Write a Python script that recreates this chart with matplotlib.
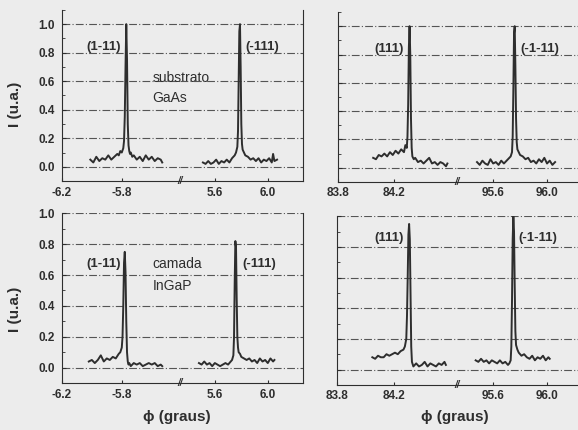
import matplotlib
matplotlib.use('Agg')
import matplotlib.pyplot as plt
from matplotlib.ticker import MultipleLocator

# ---- data ----
# top row: GaAs substrate
sub_1m11_x = [-6.01, -5.99, -5.97, -5.95, -5.93, -5.91, -5.89, -5.87, -5.85, -5.83,
              -5.82, -5.81, -5.80, -5.79, -5.785, -5.78, -5.775, -5.77, -5.765, -5.76,
              -5.755, -5.75, -5.745, -5.74, -5.73, -5.72, -5.70, -5.68, -5.66, -5.64,
              -5.62, -5.60, -5.58, -5.56, -5.54, -5.53]
sub_1m11_y = [0.05, 0.03, 0.07, 0.04, 0.06, 0.05, 0.08, 0.05, 0.07, 0.09,
              0.08, 0.11, 0.10, 0.13, 0.18, 0.35, 0.70, 1.00, 0.75, 0.30,
              0.15, 0.11, 0.09, 0.10, 0.07, 0.08, 0.05, 0.07, 0.04, 0.08,
              0.05, 0.07, 0.04, 0.06, 0.05, 0.03]

sub_m111_x = [5.51, 5.53, 5.55, 5.57, 5.59, 5.61, 5.63, 5.65, 5.67, 5.69,
              5.71, 5.73, 5.75, 5.76, 5.77, 5.775, 5.78, 5.785, 5.79, 5.795,
              5.80, 5.805, 5.81, 5.82, 5.83, 5.85, 5.87, 5.89, 5.91, 5.93,
              5.95, 5.97, 5.99, 6.01, 6.03, 6.04, 6.05, 6.07]
sub_m111_y = [0.03, 0.02, 0.04, 0.02, 0.03, 0.05, 0.02, 0.04, 0.03, 0.05,
              0.03, 0.06, 0.08, 0.10, 0.14, 0.25, 0.60, 0.95, 1.00, 0.70,
              0.30, 0.16, 0.12, 0.10, 0.08, 0.07, 0.05, 0.06, 0.04, 0.06,
              0.03, 0.05, 0.04, 0.06, 0.03, 0.09, 0.04, 0.05]

sub_111_x = [84.05, 84.07, 84.09, 84.11, 84.13, 84.15, 84.17, 84.19, 84.21, 84.23,
             84.25, 84.27, 84.28, 84.29, 84.295, 84.30, 84.305, 84.31, 84.315, 84.32,
             84.325, 84.33, 84.34, 84.35, 84.37, 84.39, 84.41, 84.43, 84.45, 84.47,
             84.49, 84.51, 84.53, 84.55, 84.57, 84.58]
sub_111_y = [0.07, 0.06, 0.09, 0.08, 0.10, 0.08, 0.11, 0.09, 0.12, 0.10,
             0.13, 0.11, 0.16, 0.14, 0.22, 0.45, 0.85, 1.00, 0.80, 0.35,
             0.14, 0.08, 0.06, 0.07, 0.04, 0.05, 0.03, 0.05, 0.07, 0.03,
             0.04, 0.02, 0.04, 0.03, 0.01, 0.03]

sub_m1m11_x = [95.48, 95.50, 95.52, 95.54, 95.56, 95.58, 95.60, 95.62, 95.64, 95.66,
               95.68, 95.70, 95.72, 95.73, 95.74, 95.745, 95.75, 95.755, 95.76, 95.765,
               95.77, 95.775, 95.78, 95.79, 95.80, 95.82, 95.84, 95.86, 95.88, 95.90,
               95.92, 95.94, 95.96, 95.98, 96.00, 96.02, 96.04, 96.06]
sub_m1m11_y = [0.04, 0.02, 0.05, 0.03, 0.02, 0.06, 0.03, 0.04, 0.02, 0.05,
               0.03, 0.05, 0.07, 0.08, 0.11, 0.22, 0.55, 0.95, 1.00, 0.72,
               0.35, 0.18, 0.13, 0.11, 0.09, 0.08, 0.06, 0.07, 0.04, 0.05,
               0.03, 0.06, 0.04, 0.07, 0.03, 0.05, 0.02, 0.04]

# bottom row: InGaP layer
lay_1m11_x = [-6.02, -6.00, -5.98, -5.96, -5.94, -5.92, -5.90, -5.88, -5.86, -5.84,
              -5.82, -5.81, -5.80, -5.795, -5.79, -5.785, -5.78, -5.775, -5.77, -5.765,
              -5.76, -5.755, -5.75, -5.74, -5.72, -5.70, -5.68, -5.66, -5.64, -5.62,
              -5.60, -5.58, -5.56, -5.54, -5.53]
lay_1m11_y = [0.04, 0.05, 0.03, 0.05, 0.08, 0.04, 0.06, 0.05, 0.07, 0.06,
              0.09, 0.10, 0.13, 0.20, 0.40, 0.68, 0.75, 0.62, 0.30, 0.10,
              0.04, 0.02, 0.03, 0.01, 0.03, 0.02, 0.03, 0.01, 0.02, 0.03,
              0.02, 0.03, 0.01, 0.02, 0.01]

lay_m111_x = [5.48, 5.50, 5.52, 5.54, 5.56, 5.58, 5.60, 5.62, 5.64, 5.66,
              5.68, 5.70, 5.72, 5.73, 5.74, 5.745, 5.75, 5.755, 5.76, 5.765,
              5.77, 5.775, 5.78, 5.79, 5.80, 5.82, 5.84, 5.86, 5.88, 5.90,
              5.92, 5.94, 5.96, 5.98, 6.00, 6.02, 6.04, 6.05]
lay_m111_y = [0.03, 0.02, 0.04, 0.02, 0.03, 0.01, 0.03, 0.02, 0.01, 0.02,
              0.03, 0.02, 0.04, 0.05, 0.08, 0.20, 0.55, 0.82, 0.78, 0.45,
              0.20, 0.13, 0.10, 0.09, 0.07, 0.06, 0.05, 0.06, 0.04, 0.05,
              0.03, 0.06, 0.04, 0.05, 0.03, 0.06, 0.04, 0.05]

lay_111_x = [84.05, 84.07, 84.09, 84.11, 84.13, 84.15, 84.17, 84.19, 84.21, 84.23,
             84.25, 84.27, 84.28, 84.29, 84.295, 84.30, 84.305, 84.31, 84.315, 84.32,
             84.325, 84.33, 84.34, 84.36, 84.38, 84.40, 84.42, 84.44, 84.46, 84.48,
             84.50, 84.52, 84.54, 84.56, 84.57]
lay_111_y = [0.08, 0.07, 0.09, 0.08, 0.08, 0.10, 0.09, 0.10, 0.11, 0.10,
             0.12, 0.13, 0.15, 0.20, 0.35, 0.60, 0.88, 0.95, 0.85, 0.50,
             0.15, 0.05, 0.02, 0.04, 0.02, 0.03, 0.05, 0.02, 0.04, 0.03,
             0.02, 0.04, 0.03, 0.05, 0.03]

lay_m1m11_x = [95.47, 95.49, 95.51, 95.53, 95.55, 95.57, 95.59, 95.61, 95.63, 95.65,
               95.67, 95.69, 95.71, 95.72, 95.73, 95.735, 95.74, 95.745, 95.75, 95.755,
               95.76, 95.765, 95.77, 95.78, 95.79, 95.81, 95.83, 95.85, 95.87, 95.89,
               95.91, 95.93, 95.95, 95.97, 95.99, 96.01, 96.02]
lay_m1m11_y = [0.06, 0.05, 0.07, 0.05, 0.06, 0.04, 0.06, 0.05, 0.04, 0.06,
               0.04, 0.05, 0.03, 0.04, 0.06, 0.15, 0.45, 0.85, 1.00, 0.90,
               0.55, 0.25, 0.16, 0.13, 0.11, 0.09, 0.10, 0.08, 0.07, 0.09,
               0.06, 0.08, 0.07, 0.09, 0.06, 0.08, 0.07]

yticks = [0.0, 0.2, 0.4, 0.6, 0.8, 1.0]
ticks_neg = [-6.2, -5.8]
ticks_pos = [5.6, 6.0]
ticks_lo = [83.8, 84.2]
ticks_hi = [95.6, 96.0]

BG = '#ececec'
INK = '#2e2e2e'

plt.rcParams['font.family'] = ['Liberation Sans', 'DejaVu Sans']

fig = plt.figure(figsize=(5.78, 4.30), dpi=100, facecolor=BG)


def panel(x0, xb, x1, y0, y1, xl_a, xl_b, tk_a, tk_b, seg_a, seg_b, ylim,
          show_ylabels, right_spine):
    ax_a = fig.add_axes([x0, y0, xb - x0, y1 - y0])
    ax_b = fig.add_axes([xb, y0, x1 - xb, y1 - y0], sharey=ax_a)
    for ax, xl, tk, seg in ((ax_a, xl_a, tk_a, seg_a), (ax_b, xl_b, tk_b, seg_b)):
        ax.set_facecolor('none')
        ax.plot(seg[0], seg[1], color=INK, lw=1.4)
        ax.set_xlim(*xl)
        ax.set_xticks(tk)
        ax.set_xticklabels(['%.1f' % t for t in tk], fontsize=8.5,
                           fontweight='bold', color=INK)
        ax.spines['top'].set_visible(False)
        ax.spines['right'].set_visible(False)
        ax.spines['bottom'].set_color(INK)
        ax.tick_params(axis='x', direction='in', length=2, color=INK, pad=4)
        ax.yaxis.grid(True, color='#555555', lw=0.8, ls=(0, (7, 2, 1, 2)))
        ax.set_axisbelow(True)
    ax_a.set_ylim(*ylim)
    ax_a.yaxis.set_major_locator(MultipleLocator(0.2))
    ax_a.yaxis.set_minor_locator(MultipleLocator(0.1))
    ax_a.spines['left'].set_color(INK)
    ax_a.tick_params(axis='y', which='both', direction='in', color=INK,
                     labelsize=8.5, labelcolor=INK, pad=5)
    ax_a.tick_params(axis='y', which='major', length=3)
    ax_a.tick_params(axis='y', which='minor', length=2)
    if show_ylabels:
        ax_a.set_yticks(yticks)
        ax_a.set_yticklabels(['%.1f' % t for t in yticks], fontweight='bold')
    else:
        ax_a.tick_params(axis='y', which='both', labelleft=False)
    ax_b.spines['left'].set_visible(False)
    ax_b.tick_params(axis='y', which='both', left=False, labelleft=False)
    if right_spine:
        ax_b.spines['right'].set_visible(True)
        ax_b.spines['right'].set_color(INK)
    # break mark on the bottom axis
    fig.text(xb, y0, '//', fontsize=7, fontweight='bold', color=INK,
             ha='center', va='center', style='italic')
    return ax_a, ax_b


bold = dict(fontsize=9.5, fontweight='bold', color=INK)
plain = dict(fontsize=10, color=INK)

# top-left
a, b = panel(0.107, 0.311, 0.524, 0.579, 0.977, (-6.2, -5.413), (5.335, 6.265),
             ticks_neg, ticks_pos, (sub_1m11_x, sub_1m11_y), (sub_m111_x, sub_m111_y),
             (-0.1, 1.1), True, True)
a.text(-5.805, 0.84, '(1-11)', ha='right', va='center', **bold)
b.text(5.83, 0.84, '(-111)', ha='left', va='center', **bold)
a.text(-5.595, 0.62, 'substrato', ha='left', va='center', **plain)
a.text(-5.595, 0.48, 'GaAs', ha='left', va='center', **plain)

# top-right
a, b = panel(0.585, 0.791, 1.0, 0.577, 0.972, (83.8, 84.65), (95.333, 96.23),
             ticks_lo, ticks_hi, (sub_111_x, sub_111_y), (sub_m1m11_x, sub_m1m11_y),
             (-0.1, 1.1), False, False)
a.text(84.27, 0.84, '(111)', ha='right', va='center', **bold)
b.text(95.8, 0.84, '(-1-11)', ha='left', va='center', **bold)

# bottom-left
a, b = panel(0.107, 0.311, 0.524, 0.109, 0.504, (-6.2, -5.413), (5.335, 6.265),
             ticks_neg, ticks_pos, (lay_1m11_x, lay_1m11_y), (lay_m111_x, lay_m111_y),
             (-0.1, 1.0), True, True)
a.text(-5.805, 0.67, '(1-11)', ha='right', va='center', **bold)
b.text(5.81, 0.67, '(-111)', ha='left', va='center', **bold)
a.text(-5.595, 0.67, 'camada', ha='left', va='center', **plain)
a.text(-5.595, 0.53, 'InGaP', ha='left', va='center', **plain)

# bottom-right
a, b = panel(0.583, 0.791, 1.0, 0.105, 0.497, (83.8, 84.65), (95.333, 96.23),
             ticks_lo, ticks_hi, (lay_111_x, lay_111_y), (lay_m1m11_x, lay_m1m11_y),
             (-0.1, 1.0), False, False)
a.text(84.27, 0.86, '(111)', ha='right', va='center', **bold)
b.text(95.79, 0.86, '(-1-11)', ha='left', va='center', **bold)

# axis titles
fig.text(0.026, 0.758, 'I (u.a.)', rotation=90, ha='center', va='center',
         fontsize=11, fontweight='bold', color=INK)
fig.text(0.026, 0.281, 'I (u.a.)', rotation=90, ha='center', va='center',
         fontsize=11, fontweight='bold', color=INK)
fig.text(0.306, 0.03, '\u03d5 (graus)', ha='center', va='center',
         fontsize=11, fontweight='bold', color=INK)
fig.text(0.787, 0.03, '\u03d5 (graus)', ha='center', va='center',
         fontsize=11, fontweight='bold', color=INK)

fig.savefig('out.png', dpi=100, facecolor=BG)
